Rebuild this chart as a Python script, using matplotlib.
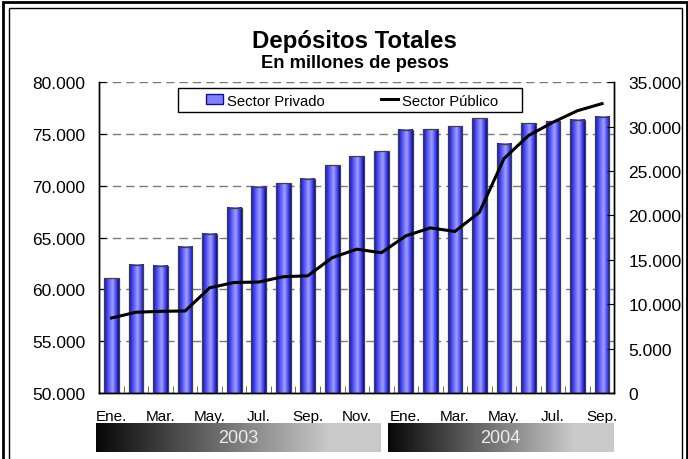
import numpy as np
import matplotlib
matplotlib.use("Agg")
import matplotlib.pyplot as plt
from matplotlib.colors import LinearSegmentedColormap
from matplotlib.patches import Rectangle, Patch
from matplotlib.lines import Line2D
from matplotlib.ticker import FuncFormatter, MultipleLocator, FixedLocator

plt.rcParams['font.family'] = ['Liberation Sans', 'DejaVu Sans']

# -----------------------------------------------------------------------------
# Data (millones de pesos)
# -----------------------------------------------------------------------------
months = ['Ene.', 'Feb.', 'Mar.', 'Abr.', 'May.', 'Jun.', 'Jul.', 'Ago.', 'Sep.', 'Oct.', 'Nov.', 'Dic.',
          'Ene.', 'Feb.', 'Mar.', 'Abr.', 'May.', 'Jun.', 'Jul.', 'Ago.', 'Sep.']
years = ['2003'] * 12 + ['2004'] * 9
privado = [61100, 62400, 62300, 64100, 65400, 67900, 69900, 70250, 70700, 72000, 72850, 73350,
           75400, 75450, 75750, 76550, 74050, 76050, 76250, 76400, 76650]
publico = [8450, 9100, 9200, 9240, 11850, 12450, 12500, 13100, 13200, 15250, 16200, 15800,
           17700, 18600, 18200, 20350, 26400, 29000, 30500, 31800, 32600]

W, H = 688, 460
fig = plt.figure(figsize=(W / 100, H / 100), dpi=100)


def fx(px):
    return px / W


def fy(py):
    return 1 - py / H


def thousands(v, pos=None):
    return '{:,.0f}'.format(v).replace(',', '.')


# -----------------------------------------------------------------------------
# Main axes
# -----------------------------------------------------------------------------
x = np.arange(len(months))
ax = fig.add_axes([fx(99.3), fy(394), fx(614.3) - fx(99.3), fy(83.3) - fy(394)])
ax2 = ax.twinx()

bar_cmap = LinearSegmentedColormap.from_list('cyl', [
    (0.0, '#0c0c90'), (0.12, '#2a2ae8'), (0.58, '#a0a0ff'), (0.85, '#3c3cf0'), (1.0, '#0a0a90')])
grad = bar_cmap(np.linspace(0, 1, 64))[np.newaxis, :, :]
bw = 0.6
for xi, v in zip(x, privado):
    ax.imshow(grad, extent=(xi - bw / 2, xi + bw / 2, 50000, v), aspect='auto',
              interpolation='bilinear', zorder=2)
ax.bar(x, np.array(privado) - 50000, bottom=50000, width=bw, fill=False,
       edgecolor='#404040', linewidth=0.9, zorder=3)

ax2.plot(x, publico, color='black', linewidth=2.2, solid_joinstyle='miter')

ax.set_xlim(-0.5, len(months) - 0.5)
ax.set_ylim(50000, 80000)
ax2.set_ylim(0, 35000)

ax.yaxis.set_major_locator(MultipleLocator(5000))
ax.yaxis.set_major_formatter(FuncFormatter(thousands))
ax2.yaxis.set_major_locator(MultipleLocator(5000))
ax2.yaxis.set_major_formatter(FuncFormatter(thousands))

ax.set_axisbelow(True)
ax.yaxis.grid(True, color='#7a7a7a', linewidth=1.0, linestyle=(0, (6, 3.6)))

ax.set_xticks(x[::2])
ax.set_xticklabels(months[::2])
ax.xaxis.set_minor_locator(FixedLocator(x[:-1] + 0.5))
ax.tick_params(axis='x', which='major', length=0, pad=11.5, labelsize=11)
ax.tick_params(axis='x', which='minor', length=5, direction='in', color='#555555')
ax.tick_params(axis='y', length=5, direction='in', labelsize=12.5, pad=10)
ax2.tick_params(axis='y', length=5, direction='in', labelsize=12.5, pad=10)

for a in (ax, ax2):
    a.spines['top'].set_visible(False)
    for s in ('left', 'right', 'bottom'):
        a.spines[s].set_linewidth(1.0)

# -----------------------------------------------------------------------------
# Legend
# -----------------------------------------------------------------------------
handles = [Patch(facecolor='#8080ff', edgecolor='#10108a', linewidth=1.0),
           Line2D([0], [0], color='black', linewidth=2.2)]
ax2.legend(handles, ['Sector Privado', 'Sector Público'], ncol=2, loc='center left',
           bbox_to_anchor=(fx(206), fy(101.5)), bbox_transform=fig.transFigure,
           frameon=False, borderpad=0, borderaxespad=0, fontsize=10.7, handlelength=1.15,
           handleheight=0.65, handletextpad=0.27, columnspacing=3.8)
fig.patches.append(Rectangle((fx(178), fy(113.3)), fx(522) - fx(178), fy(89) - fy(113.3),
                             transform=fig.transFigure, facecolor='none',
                             edgecolor='black', linewidth=1.0, zorder=5))

# -----------------------------------------------------------------------------
# Year bands
# -----------------------------------------------------------------------------
band_spans = [(-0.62, 10.97), (11.27, 20.45)]
bax = fig.add_axes([ax.get_position().x0, fy(453), ax.get_position().width, fy(424) - fy(453)])
bax.set_xlim(ax.get_xlim())
bax.set_ylim(0, 1)
bax.axis('off')
t = np.linspace(0, 1, 256)
band = 0.03 + 0.76 * np.clip(t / 0.82, 0, 1)
band_img = np.stack([band, band, band], axis=-1)[np.newaxis, :, :]
for yr, (x0, x1) in zip(sorted(set(years)), band_spans):
    bax.imshow(band_img, extent=(x0, x1, 0, 1), aspect='auto', clip_on=False)
    bax.text((x0 + x1) / 2, 0.5, yr, ha='center', va='center', color='#ececec', fontsize=13)

# -----------------------------------------------------------------------------
# Titles and frame
# -----------------------------------------------------------------------------
fig.text(fx(354.5), fy(48.3), 'Depósitos Totales', ha='center', va='baseline',
         fontsize=17.3, fontweight='bold')
fig.text(fx(354.5), fy(68.3), 'En millones de pesos', ha='center', va='baseline',
         fontsize=13.2, fontweight='bold')

fig.patches.append(Rectangle((fx(3), fy(470)), fx(687) - fx(3), fy(3) - fy(470),
                             transform=fig.transFigure, facecolor='none',
                             edgecolor='black', linewidth=2.0))
fig.patches.append(Rectangle((fx(9), fy(470)), fx(682) - fx(9), fy(9) - fy(470),
                             transform=fig.transFigure, facecolor='none',
                             edgecolor='black', linewidth=1.0))

fig.savefig('out.png', dpi=100)
